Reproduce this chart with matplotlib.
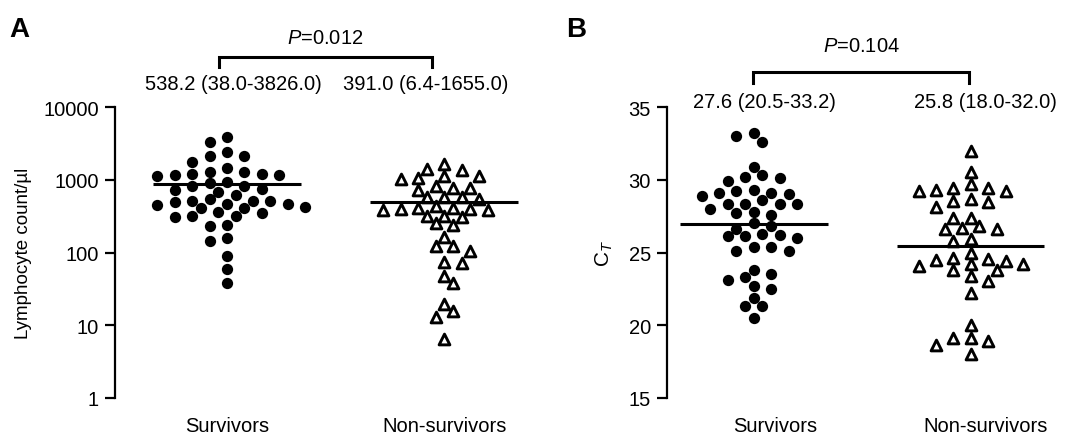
import numpy as np
import matplotlib
matplotlib.use("Agg")
import matplotlib.pyplot as plt
from matplotlib.ticker import FixedLocator, NullLocator

plt.rcParams['font.family'] = ['Liberation Sans', 'DejaVu Sans']
plt.rcParams['mathtext.fontset'] = 'custom'
plt.rcParams['mathtext.rm'] = 'Liberation Sans'
plt.rcParams['mathtext.it'] = 'Liberation Sans:italic'

# ---------------- data ----------------
groups = ["Survivors", "Non-survivors"]

lymph_survivors = [3826, 3334, 2385, 2141, 2141, 1771, 1437, 1291, 1162, 1200, 1115, 1162,
                   1200, 1291, 940, 902, 828, 746, 730, 813, 686, 617, 543, 515, 515, 405,
                   464, 349, 418, 321, 450, 464, 499, 515, 405, 364, 321, 311, 233, 239,
                   145, 157, 89, 59, 38]
lymph_nonsurvivors = [1655, 1405, 1361, 1137, 1024, 1057, 1137, 763, 828, 763, 723, 585,
                      574, 543, 574, 440, 410, 391, 400, 410, 321, 321, 380, 311, 385, 255,
                      239, 165, 124, 124, 106, 75, 72, 48, 38, 19.6, 15.7, 12.8, 6.4]

ct_survivors = [33.2, 32.6, 33.0, 30.9, 30.3, 30.1, 29.9, 30.2, 29.3, 29.1, 29.2, 29.1,
                29.0, 28.6, 28.3, 28.3, 28.3, 28.3, 28.9, 27.8, 27.6, 28.0, 27.7, 27.0,
                26.8, 26.6, 26.3, 26.1, 26.2, 26.0, 26.1, 25.4, 25.1, 25.1, 25.4, 23.5,
                23.1, 23.3, 22.7, 23.8, 22.5, 21.9, 21.3, 21.3, 20.5]
ct_nonsurvivors = [32.0, 30.5, 29.4, 29.3, 29.2, 28.7, 29.25, 29.4, 29.7, 28.55, 28.1,
                   28.45, 27.4, 27.35, 26.6, 26.85, 26.65, 26.6, 25.9, 25.8, 25.0, 24.2,
                   24.05, 24.5, 23.8, 24.6, 24.55, 23.8, 24.2, 24.45, 23.4, 23.05, 22.2,
                   20.0, 19.1, 18.9, 18.65, 19.15, 18.0]

lymph_summary = ["538.2 (38.0-3826.0)", "391.0 (6.4-1655.0)"]
ct_summary = ["27.6 (20.5-33.2)", "25.8 (18.0-32.0)"]
lymph_p = "0.012"
ct_p = "0.104"

lymph_ticks = [1, 10, 100, 1000, 10000]
lymph_ticklabels = ["1", "10", "100", "1000", "10000"]
ct_ticks = [15, 20, 25, 30, 35]

# ---------------- figure ----------------
W, H = 1074, 439
fig = plt.figure(figsize=(W / 100, H / 100), dpi=100)

axA = fig.add_axes([115 / W, (H - 399) / H, (542 - 115) / W, (399 - 108) / H])
axB = fig.add_axes([667 / W, (H - 399) / H, (1064 - 667) / W, (399 - 108) / H])

axA.set_yscale('log')
axA.set_ylim(1, 10000)
axA.set_xlim(-0.515, 1.45)
axB.set_ylim(15, 35)
axB.set_xlim(-0.40, 1.43)

FS = 14.5


def swarm_offsets(ax, xc, values, d_px=11.0, slot_px=8.7):
    vals = np.asarray(values, dtype=float)
    pts = ax.transData.transform(np.column_stack([np.full(len(vals), xc), vals]))
    ypx = pts[:, 1]
    order = np.argsort(-ypx, kind='stable')
    placed = []
    offs = np.zeros(len(vals))
    for i, idx in enumerate(order):
        y = ypx[idx]
        ks = [0]
        for k in range(1, 30):
            ks += [k, -k] if i % 2 == 0 else [-k, k]
        for k in ks:
            x = k * slot_px
            if all((x - px) ** 2 + (y - py) ** 2 >= d_px ** 2 for px, py in placed):
                break
        placed.append((x, y))
        offs[idx] = x
    p0 = ax.transData.transform([(0, vals[0])])[0][0]
    p1 = ax.transData.transform([(1, vals[0])])[0][0]
    return offs / (p1 - p0)


def draw_panel(ax, surv, nons, letter_x, letter):
    for gi, (vals, kind) in enumerate([(surv, 'dot'), (nons, 'tri')]):
        off = swarm_offsets(ax, gi, vals)
        xs = gi + off
        if kind == 'dot':
            ax.scatter(xs, vals, s=66, marker='o', color='black', linewidths=0, zorder=3,
                       clip_on=False)
        else:
            ax.scatter(xs, vals, s=60, marker='^', facecolor='white', edgecolor='black',
                       linewidths=2.1, zorder=3, clip_on=False)
        m = np.mean(vals)
        ax.plot([gi - 0.34, gi + 0.34], [m, m], color='black', lw=2.2, zorder=4,
                solid_capstyle='butt', clip_on=False)

    for s in ['top', 'right', 'bottom']:
        ax.spines[s].set_visible(False)
    ax.spines['left'].set_linewidth(1.6)
    ax.tick_params(axis='y', which='major', length=7, width=1.6, labelsize=FS, pad=4.5,
                   direction='out')
    ax.tick_params(axis='y', which='minor', length=0)
    ax.tick_params(axis='x', length=0, labelsize=FS, pad=13)
    fig.text(letter_x / W, 1 - 30 / H, letter, fontsize=20, fontweight='bold',
             ha='left', va='center')


draw_panel(axA, lymph_survivors, lymph_nonsurvivors, 9, "A")
draw_panel(axB, ct_survivors, ct_nonsurvivors, 566, "B")

# Panel A axes
axA.yaxis.set_major_locator(FixedLocator(lymph_ticks))
axA.yaxis.set_minor_locator(NullLocator())
axA.set_yticklabels(lymph_ticklabels)
axA.set_xticks([0, 1])
axA.set_xticklabels(groups)
axA.set_ylabel("Lymphocyte count/µl", fontsize=13.5, labelpad=8)

# Panel B axes
axB.set_yticks(ct_ticks)
axB.set_xticks([0.1, 1.07])
axB.set_xticklabels(groups)
axB.set_ylabel("C$_{T}$", fontsize=15, labelpad=10)


def annotate(summary, p, x_txt, y_txt, x_br, y_br_top, y_br_bot, y_p):
    # annotation placement in figure pixels (top-left origin)
    for t, xp in zip(summary, x_txt):
        fig.text(xp / W, 1 - y_txt / H, t, fontsize=FS, ha='center', va='center')
    xs = [x_br[0], x_br[0], x_br[1], x_br[1]]
    ys = [y_br_bot, y_br_top, y_br_top, y_br_bot]
    fig.add_artist(plt.Line2D([x / W for x in xs], [1 - y / H for y in ys], color='black',
                              lw=2.2, solid_joinstyle='miter'))
    fig.text((x_br[0] + x_br[1]) / 2 / W, 1 - y_p / H, "$P$=" + p, fontsize=FS,
             ha='center', va='center')


annotate(lymph_summary, lymph_p, [233, 426], 85, [219, 432], 58, 68, 38)
annotate(ct_summary, ct_p, [764, 985], 103, [753, 969], 73, 84, 46)

fig.savefig("out.png", dpi=100)
